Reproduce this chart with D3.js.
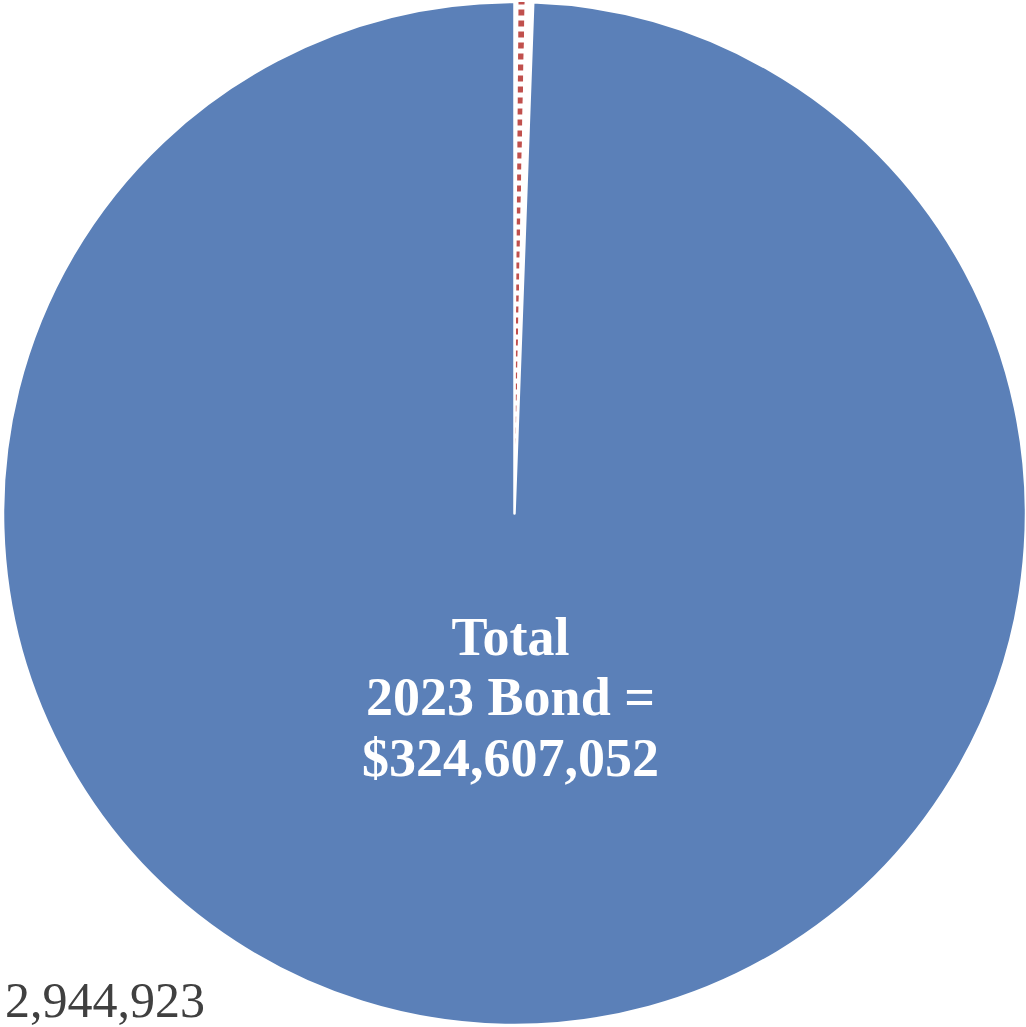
<!DOCTYPE html>
<html>
<head>
<meta charset="utf-8">
<script src="https://cdn.jsdelivr.net/npm/d3@7"></script>
<style>
  html, body { margin: 0; padding: 0; background: #fff; }
  svg { display: block; }
</style>
</head>
<body>
<svg id="chart" width="1026" height="1027"></svg>
<script>
// slices, clockwise from 12 o'clock
var categories = ["Small item A", "Small item B", "Small item C", "2023 Bond projects"];
var values = [405000, 631000, 857000, 322714052];
var sliceFills = ["white", "dashed", "white", "#5b80b8"];

// text
var centerLines = ["Total", "2023 Bond =", "$324,607,052"];
var sideLabel = "2,944,923";

var width = 1026, height = 1027;
var cx = 514.5, cy = 513.5, radius = 511.5;

var svg = d3.select("#chart");

// red dash pattern, horizontal stripes so the dashes taper with the wedge
var defs = svg.append("defs");
var pat = defs.append("pattern")
  .attr("id", "redDash")
  .attr("patternUnits", "userSpaceOnUse")
  .attr("width", 20)
  .attr("height", 11);
pat.append("rect").attr("width", 20).attr("height", 11).attr("fill", "white");
pat.append("rect").attr("y", 2).attr("width", 20).attr("height", 6).attr("fill", "#c0504d");

var data = categories.map(function(c, i) { return {name: c, value: values[i], fill: sliceFills[i]}; });

var pie = d3.pie()
  .sort(null)
  .value(function(d) { return d.value; });

var arc = d3.arc()
  .innerRadius(0)
  .outerRadius(radius);

var g = svg.append("g")
  .attr("transform", "translate(" + cx + "," + cy + ")");

g.selectAll("path.slice")
  .data(pie(data))
  .enter().append("path")
    .attr("class", "slice")
    .attr("d", arc)
    .attr("fill", function(d) { return d.data.fill == "dashed" ? "url(#redDash)" : d.data.fill; })
    .attr("stroke", function(d) { return d.data.fill == "#5b80b8" ? "white" : "none"; })
    .attr("stroke-width", 2.5)
    .attr("stroke-linejoin", "round");

// center text
var txt = g.append("text")
  .attr("text-anchor", "middle")
  .attr("font-family", "'Liberation Serif', 'Times New Roman', serif")
  .attr("font-weight", "bold")
  .attr("font-size", 54)
  .attr("fill", "white");
centerLines.forEach(function(s, i) {
  txt.append("tspan")
    .attr("x", -4)
    .attr("y", 141 + i * 60.5)
    .text(s);
});

// data label, lower left
svg.append("text")
  .attr("x", 205)
  .attr("y", 1017)
  .attr("text-anchor", "end")
  .attr("font-family", "'Liberation Serif', 'Times New Roman', serif")
  .attr("font-size", 50)
  .attr("fill", "#404040")
  .text(sideLabel);
</script>
</body>
</html>
